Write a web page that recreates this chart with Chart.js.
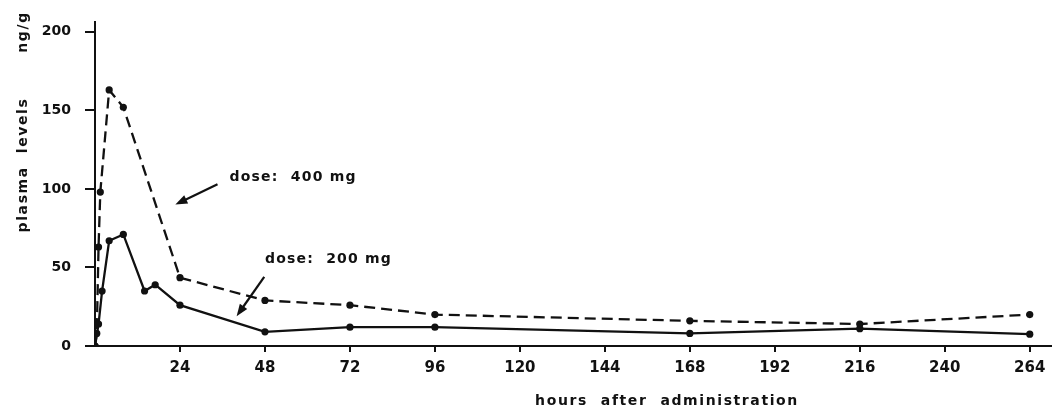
<!DOCTYPE html>
<html>
<head>
<meta charset="utf-8">
<script src="https://cdn.jsdelivr.net/npm/chart.js@4"></script>
<style>
  html, body { margin: 0; padding: 0; background: #fff; }
  #wrap { width: 1055px; height: 408px; position: relative; }
</style>
</head>
<body>
<div id="wrap"><canvas id="plasmaChart"></canvas></div>
<script>
// hours after administration / plasma levels (ng/g)
const hours400  = [0, 0.5, 1, 1.5, 4, 8, 24, 48, 72, 96, 168, 216, 264];
const plasma400 = [0, 8, 63, 98, 163, 152, 43.5, 29, 26, 20, 16, 14, 20];

const hours200  = [0, 1, 2, 4, 8, 14, 17, 24, 48, 72, 96, 168, 216, 264];
const plasma200 = [0, 14, 35, 67, 71, 35, 39, 26, 9, 12, 12, 8, 11, 7.5];

const xTicks = [24, 48, 72, 96, 120, 144, 168, 192, 216, 240, 264];
const yTicks = [0, 50, 100, 150, 200];

const xTitle = "hours  after  administration";
const yTitle = "plasma  levels";
const yUnit  = "ng/g";
const label400 = "dose:  400 mg";
const label200 = "dose:  200 mg";

const INK  = "#111";
const FONT = "'DejaVu Sans', sans-serif";

const toPoints = (xs, ys) => xs.map((h, i) => ({ x: h, y: ys[i] }));

function arrow(ctx, x1, y1, x2, y2) {
  const a = Math.atan2(y2 - y1, x2 - x1), L = 12, W = 4.5;
  ctx.beginPath();
  ctx.moveTo(x1, y1);
  ctx.lineTo(x2 - 6 * Math.cos(a), y2 - 6 * Math.sin(a));
  ctx.stroke();
  ctx.beginPath();
  ctx.moveTo(x2, y2);
  ctx.lineTo(x2 - L * Math.cos(a) + W * Math.sin(a), y2 - L * Math.sin(a) - W * Math.cos(a));
  ctx.lineTo(x2 - L * Math.cos(a) - W * Math.sin(a), y2 - L * Math.sin(a) + W * Math.cos(a));
  ctx.closePath();
  ctx.fill();
}

// titles, dose labels and arrows
const annotate = {
  id: "annotate",
  afterDraw(chart) {
    const { ctx, scales: { x, y } } = chart;
    ctx.save();
    ctx.fillStyle = INK;
    ctx.strokeStyle = INK;
    ctx.lineWidth = 2.2;
    ctx.font = `bold 14px ${FONT}`;
    ctx.letterSpacing = "1.6px";
    ctx.textBaseline = "middle";

    ctx.textAlign = "center";
    ctx.fillText(xTitle, 667, 401);

    ctx.save();
    ctx.translate(23, 165);
    ctx.rotate(-Math.PI / 2);
    ctx.fillText(yTitle, 0, 0);
    ctx.restore();
    ctx.save();
    ctx.translate(23, 32);
    ctx.rotate(-Math.PI / 2);
    ctx.fillText(yUnit, 0, 0);
    ctx.restore();

    ctx.letterSpacing = "1.2px";
    ctx.textAlign = "left";
    ctx.fillText(label400, x.getPixelForValue(38), y.getPixelForValue(107.5));
    ctx.fillText(label200, x.getPixelForValue(48), y.getPixelForValue(55));

    arrow(ctx, x.getPixelForValue(34.6), y.getPixelForValue(103),
               x.getPixelForValue(22.7), y.getPixelForValue(90));
    arrow(ctx, x.getPixelForValue(47.8), y.getPixelForValue(44),
               x.getPixelForValue(40), y.getPixelForValue(19));
    ctx.restore();
  }
};

const lineStyle = {
  borderColor: INK,
  backgroundColor: INK,
  borderWidth: 2.3,
  pointRadius: 3.6,
  pointBackgroundColor: INK,
  pointBorderWidth: 0,
  tension: 0,
  fill: false,
};

new Chart(document.getElementById("plasmaChart"), {
  type: "line",
  data: {
    datasets: [
      { ...lineStyle, label: "dose: 400 mg", data: toPoints(hours400, plasma400), borderDash: [11, 6] },
      { ...lineStyle, label: "dose: 200 mg", data: toPoints(hours200, plasma200) },
    ],
  },
  options: {
    responsive: true,
    maintainAspectRatio: false,
    animation: false,
    layout: { padding: { top: 14, right: 1, left: 0, bottom: 0 } },
    plugins: { legend: { display: false }, tooltip: { enabled: false } },
    scales: {
      x: {
        type: "linear",
        min: 0,
        max: 270,
        afterBuildTicks: (axis) => { axis.ticks = xTicks.map(v => ({ value: v })); },
        afterFit: (axis) => { axis.height = 62; },
        grid: { drawOnChartArea: false, tickLength: 6, color: INK, lineWidth: 2 },
        border: { color: INK, width: 2 },
        ticks: { color: INK, font: { family: FONT, size: 15, weight: "bold" }, padding: 7, maxRotation: 0, autoSkip: false },
      },
      y: {
        min: 0,
        max: 206,
        afterBuildTicks: (axis) => { axis.ticks = yTicks.map(v => ({ value: v })); },
        afterFit: (axis) => { axis.width = 95; },
        grid: { drawOnChartArea: false, tickLength: 10, color: INK, lineWidth: 2 },
        border: { color: INK, width: 2 },
        ticks: { color: INK, font: { family: FONT, size: 14, weight: "bold" }, padding: 14 },
      },
    },
  },
  plugins: [annotate],
});
</script>
</body>
</html>
